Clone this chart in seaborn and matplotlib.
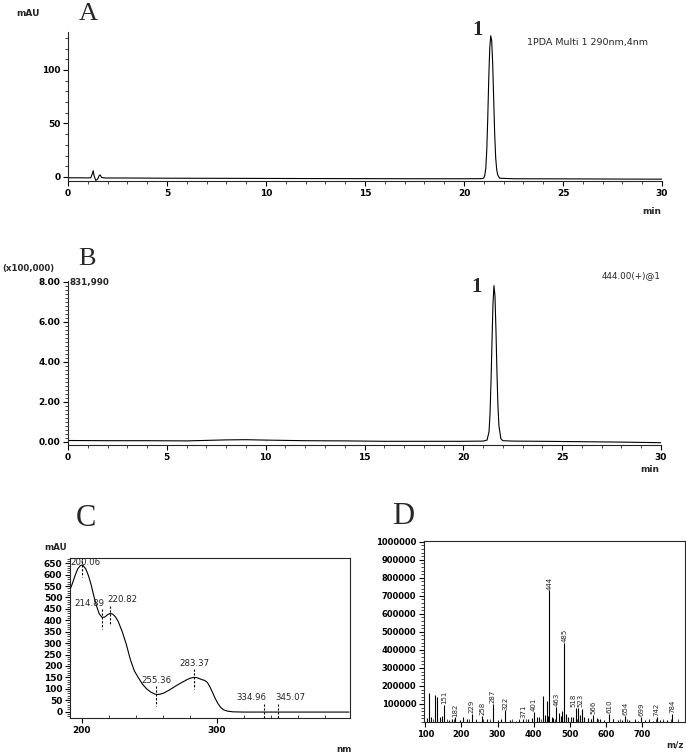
import matplotlib
matplotlib.use("Agg")
import matplotlib.pyplot as plt
import seaborn as sns
import pandas as pd
import numpy as np
from matplotlib.ticker import MultipleLocator, FuncFormatter

# --- A: PDA chromatogram, 290 nm ---
a_time = [0, 0.5, 1.0, 1.15, 1.22, 1.27, 1.32, 1.4, 1.5, 1.58, 1.63, 1.7, 1.9, 3, 5, 8, 10,
          12, 15, 18, 20, 20.9, 21.0, 21.05, 21.1, 21.15, 21.2, 21.25, 21.3, 21.35, 21.4,
          21.45, 21.5, 21.55, 21.6, 21.65, 21.7, 21.8, 22.5, 25, 28, 30]
a_mau = [-0.8, -0.8, -0.9, -0.8, 2.5, 5.8, 1.0, -3.2, -2.0, 1.5, 1.8, -0.6, -1.0, -1.0, -1.2,
         -1.3, -1.4, -1.5, -1.6, -1.7, -1.7, -1.6, -1.0, 1.5, 8, 25, 55, 92, 120, 132, 127,
         105, 72, 40, 18, 7, 2, -1.2, -1.7, -1.8, -2.0, -2.1]

# --- B: MS chromatogram m/z 444 (x100,000) ---
b_time = [0, 2, 4, 6, 8, 9, 10, 12, 14, 16, 18, 20, 21.0, 21.2, 21.3, 21.35, 21.4, 21.45,
          21.5, 21.55, 21.6, 21.65, 21.7, 21.75, 21.8, 21.9, 22.0, 22.5, 24, 26, 28, 30]
b_int = [0.06, 0.05, 0.05, 0.04, 0.09, 0.10, 0.08, 0.05, 0.04, 0.02, 0.02, 0.02, 0.03, 0.08,
         0.5, 1.4, 3.0, 5.0, 6.9, 7.8, 7.3, 5.6, 3.5, 1.8, 0.8, 0.15, 0.05, 0.03, 0.02, 0.0,
         -0.02, -0.05]

# --- C: UV spectrum ---
wl_nm = [191, 193, 195, 197, 199, 200, 201, 203, 205, 207, 209, 211, 213, 215, 217, 219, 221,
         223, 225, 227, 230, 233, 236, 239, 242, 245, 248, 251, 254, 256, 258, 261, 265, 269,
         273, 277, 280, 283, 285, 287, 289, 291, 293, 295, 297, 299, 301, 303, 305, 308, 312,
         320, 340, 360, 380, 398]
uv_mau = [530, 560, 595, 625, 640, 642, 640, 625, 595, 555, 505, 462, 428, 413, 414, 424, 430,
          427, 415, 395, 350, 295, 228, 178, 148, 120, 100, 86, 77, 75, 76, 82, 95, 110,
          124, 137, 146, 150, 149, 145, 140, 137, 128, 108, 82, 56, 34, 18, 8, 2, -1,
          -2, -2, -2, -2, -2]
uv_marks = [200.06, 214.89, 220.82, 255.36, 283.37, 334.96, 345.07]

# --- D: mass spectrum ---
ms_label_mz = [151, 182, 229, 258, 287, 322, 371, 401, 444, 463, 485, 518, 523, 566, 610,
               654, 699, 742, 784]
ms_label_int = [95000, 25000, 46000, 35000, 100000, 65000, 17000, 55000, 730000, 85000,
                440000, 80000, 78000, 40000, 45000, 35000, 30000, 30000, 45000]
ms_other_mz = [105, 110, 115, 126, 131, 140, 145, 165, 175, 195, 205, 215, 240, 270, 300, 310,
               335, 350, 360, 385, 395, 410, 415, 425, 432, 436, 440, 450, 455, 470, 475, 480,
               490, 495, 505, 510, 530, 535, 540, 550, 560, 575, 585, 595, 620, 635, 645, 665,
               680, 690, 710, 720, 730, 750, 760, 770]
ms_other_int = [20000, 160000, 30000, 150000, 140000, 25000, 35000, 10000, 15000, 12000, 25000,
                18000, 12000, 15000, 12000, 18000, 10000, 8000, 12000, 15000, 20000, 30000,
                25000, 145000, 40000, 115000, 35000, 30000, 20000, 50000, 35000, 60000, 45000,
                30000, 25000, 30000, 40000, 70000, 30000, 20000, 15000, 20000, 15000, 12000,
                15000, 10000, 12000, 10000, 12000, 8000, 10000, 12000, 8000, 10000, 8000, 12000]

sns.set_theme(style="ticks")
plt.rcParams["font.family"] = ["DejaVu Sans"]
plt.rcParams["axes.linewidth"] = 0.8

W, H = 686, 755
fig = plt.figure(figsize=(W / 100, H / 100), dpi=100)


def add_ax(l, t, r, b):
    return fig.add_axes([l / W, 1 - b / H, (r - l) / W, (b - t) / H])


def ftext(x, y, s, **kw):
    fig.text(x / W, 1 - y / H, s, **kw)


serif = ["Liberation Serif", "DejaVu Serif"]


def style_ticks(ax, fs=6.5):
    ax.tick_params(axis="both", which="major", length=3.5, width=0.8, pad=2,
                   labelsize=fs, colors="black")
    ax.tick_params(axis="both", which="minor", length=2, width=0.6)
    for lab in ax.get_xticklabels() + ax.get_yticklabels():
        lab.set_fontweight("bold")


# ---------- A ----------
axA = add_ax(68, 32, 662, 181)
sns.lineplot(x=a_time, y=a_mau, ax=axA, color="black", lw=0.8, sort=False)
axA.set_xlim(0, 30)
axA.xaxis.set_major_locator(MultipleLocator(5))
axA.xaxis.set_minor_locator(MultipleLocator(1))
axA.yaxis.set_minor_locator(MultipleLocator(10))
sns.despine(ax=axA)
axA.set_yticks([0, 50, 100])
axA.set_ylim(-3.8, 135.5)
style_ticks(axA)

ftext(28, 13, "mAU", ha="center", va="center", fontsize=6.5, fontweight="bold")
ftext(88, 14, "A", ha="center", va="center", fontsize=19, family=serif)
ftext(478, 30, "1", ha="center", va="center", fontsize=15, fontweight="bold", family=serif)
ftext(648, 43, "1PDA Multi 1 290nm,4nm", ha="right", va="center", fontsize=6.8)
ftext(652, 212, "min", ha="center", va="center", fontsize=6.5, fontweight="bold")

# ---------- B ----------
axB = add_ax(68, 281, 661, 445)
sns.lineplot(x=b_time, y=b_int, ax=axB, color="black", lw=0.8, sort=False)
axB.set_xlim(0, 30)
axB.xaxis.set_major_locator(MultipleLocator(5))
axB.xaxis.set_minor_locator(MultipleLocator(1))
axB.yaxis.set_major_locator(MultipleLocator(2))
axB.yaxis.set_minor_locator(MultipleLocator(0.2))
axB.yaxis.set_major_formatter(FuncFormatter(lambda v, p: f"{v:.2f}"))
sns.despine(ax=axB)
axB.set_ylim(-0.165, 8.03)
style_ticks(axB)

ftext(28, 268.5, "(x100,000)", ha="center", va="center", fontsize=6.2, fontweight="bold")
ftext(87, 259, "B", ha="center", va="center", fontsize=19, family=serif)
ftext(70, 282, "831,990", ha="left", va="center", fontsize=6.3, fontweight="bold")
ftext(476.5, 286.5, "1", ha="center", va="center", fontsize=15, fontweight="bold", family=serif)
ftext(660, 276, "444.00(+)@1", ha="right", va="center", fontsize=6.3)
ftext(650, 469, "min", ha="center", va="center", fontsize=6.5, fontweight="bold")

# ---------- C ----------
axC = add_ax(70, 558, 350, 718)
sns.lineplot(x=wl_nm, y=uv_mau, ax=axC, color="black", lw=0.8)
axC.set_xlim(191.3, 398.7)
axC.set_ylim(-28, 673)
axC.xaxis.set_major_locator(MultipleLocator(100))
axC.xaxis.set_minor_locator(MultipleLocator(20))
axC.yaxis.set_major_locator(MultipleLocator(50))
axC.yaxis.set_minor_locator(MultipleLocator(10))
style_ticks(axC)
axC.tick_params(axis="x", which="minor", direction="in")
# close pairs of labels are pushed apart: first one left-aligned to the right edge, second one right
align = {214.89: "right", 220.82: "left", 334.96: "right", 345.07: "left"}
for wl in uv_marks:
    a = float(np.interp(wl, wl_nm, uv_mau))
    ty = min(a + 62, 652)
    axC.plot([wl, wl], [a + 35, a - 50], color="black", lw=0.8, ls=(0, (2, 1.5)))
    ha = align.get(wl, "center")
    tx = max(wl, 202.5)
    if ha == "right":
        tx = wl + 1.5
    elif ha == "left":
        tx = wl - 1.5
    axC.text(tx, ty, f"{wl:.2f}", ha=ha, va="center", fontsize=6.2)

ftext(86, 519, "C", ha="center", va="center", fontsize=22, family=serif)
ftext(56, 548, "mAU", ha="center", va="center", fontsize=6.3, fontweight="bold")
ftext(344, 749, "nm", ha="center", va="center", fontsize=6.3, fontweight="bold")

# ---------- D ----------
axD = add_ax(424, 541, 685, 722)
axD.vlines(ms_other_mz, 0, ms_other_int, color="black", lw=0.8)
axD.vlines(ms_label_mz, 0, ms_label_int, color="black", lw=0.8)
nudge = {518: -7, 523: 8}
for mz, it in zip(ms_label_mz, ms_label_int):
    axD.text(mz + nudge.get(mz, 0), it + 4000, str(mz), rotation=90, ha="center",
             va="bottom", fontsize=5)
axD.set_xlim(96, 820)
axD.set_ylim(0, 1004000)
axD.set_xticks(np.arange(100, 701, 100))
axD.xaxis.set_minor_locator(MultipleLocator(20))
axD.set_yticks(np.arange(100000, 1000001, 100000))
axD.yaxis.set_minor_locator(MultipleLocator(20000))
axD.yaxis.set_major_formatter(FuncFormatter(lambda v, p: f"{int(v)}"))
style_ticks(axD, fs=6)
axD.tick_params(axis="x", which="minor", direction="in")

ftext(403, 517, "D", ha="center", va="center", fontsize=22, family=serif)
ftext(675, 745, "m/z", ha="center", va="center", fontsize=6.3, fontweight="bold")

fig.savefig("out.png", dpi=100, facecolor="white")
